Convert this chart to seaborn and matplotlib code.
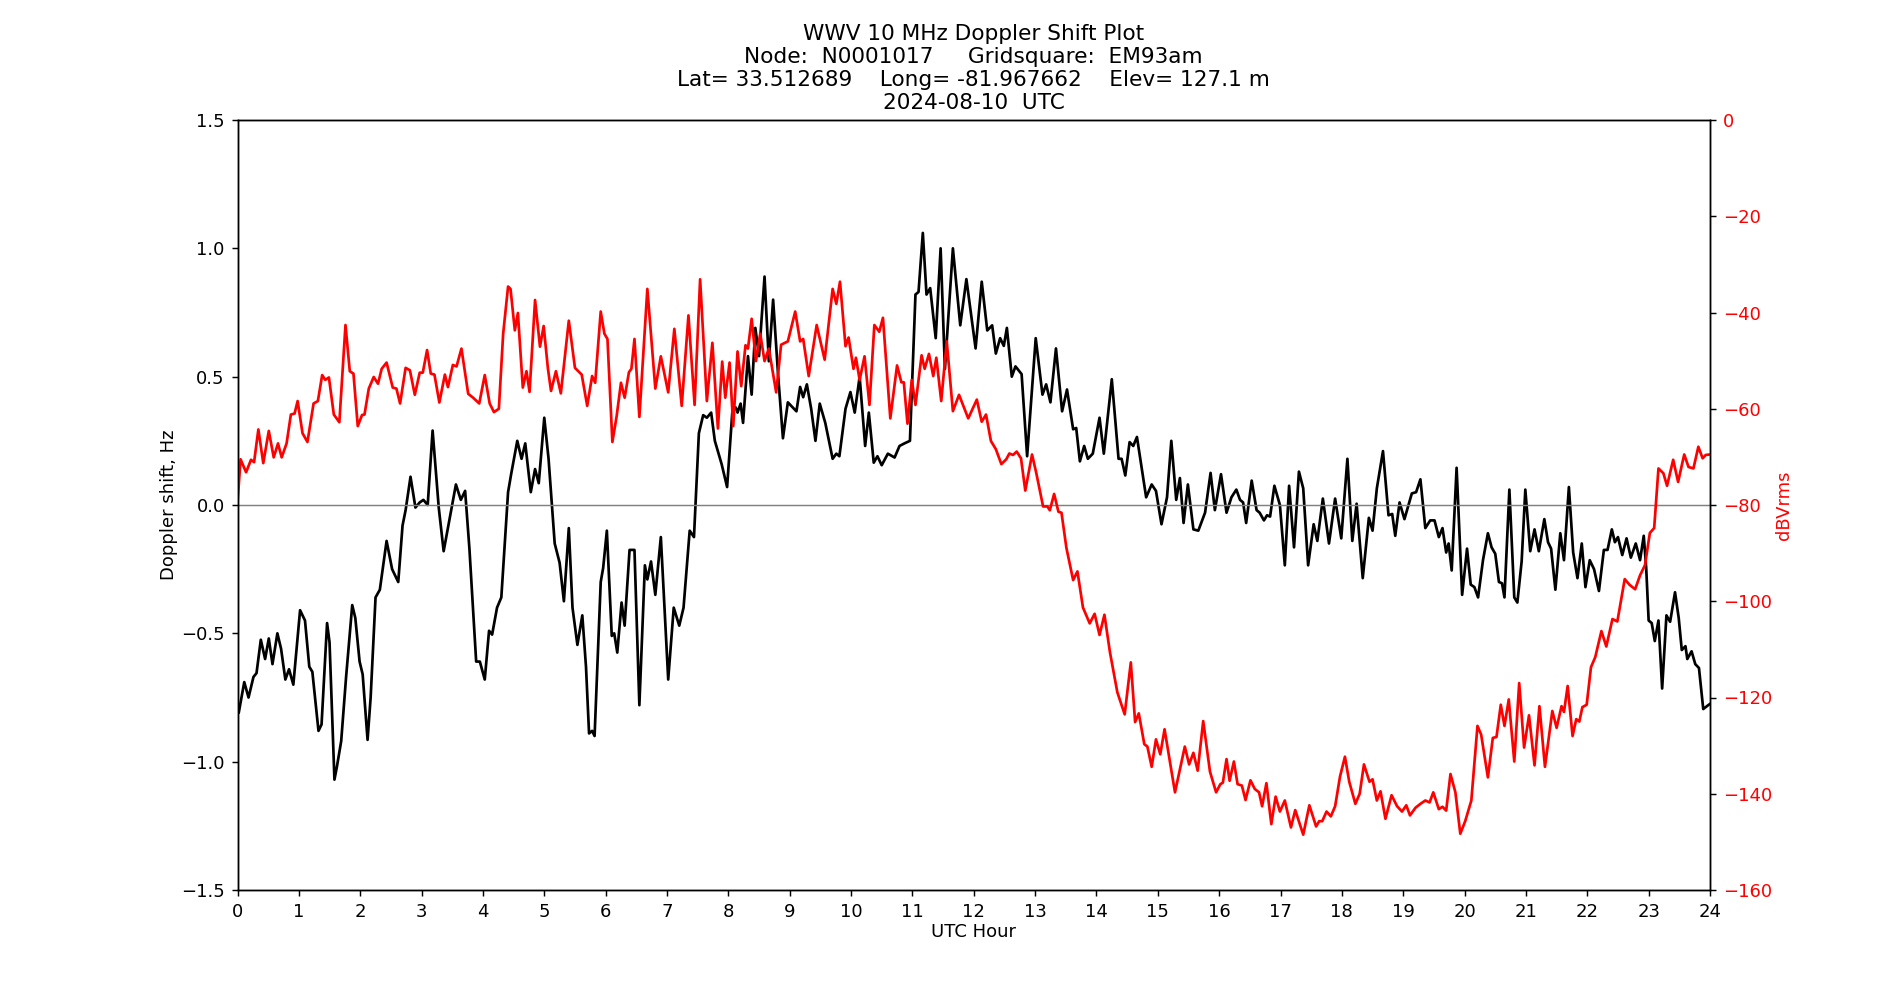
import matplotlib
matplotlib.use("Agg")
import matplotlib.pyplot as plt
import seaborn as sns
import numpy as np

# ---- Doppler shift (Hz) ----
doppler_hours = [
    0.00, 0.02, 0.11, 0.18, 0.26, 0.31, 0.38, 0.45, 0.51, 0.57, 0.65, 0.71, 0.78, 0.84, 0.91,
    1.02, 1.10, 1.17, 1.22, 1.32, 1.37, 1.46, 1.50, 1.58, 1.62, 1.69, 1.77, 1.87, 1.92, 1.99,
    2.04, 2.12, 2.17, 2.25, 2.32, 2.43, 2.52, 2.62, 2.69, 2.74, 2.82, 2.90, 2.97, 3.03, 3.10,
    3.18, 3.28, 3.36, 3.46, 3.56, 3.64, 3.71, 3.78, 3.89, 3.95, 4.03, 4.10, 4.15, 4.23, 4.30,
    4.41, 4.46, 4.56, 4.63, 4.69, 4.78, 4.85, 4.91, 5.00, 5.07, 5.17, 5.25, 5.32, 5.40, 5.46,
    5.54, 5.62, 5.68, 5.73, 5.78, 5.82, 5.92, 5.96, 6.02, 6.10, 6.14, 6.19, 6.26, 6.31, 6.39,
    6.47, 6.55, 6.64, 6.68, 6.74, 6.81, 6.90, 7.02, 7.11, 7.20, 7.27, 7.37, 7.44, 7.52, 7.59,
    7.65, 7.72, 7.78, 7.89, 7.98, 8.07, 8.12, 8.15, 8.20, 8.24, 8.32, 8.38, 8.44, 8.50, 8.59,
    8.66, 8.73, 8.81, 8.89, 8.97, 9.05, 9.11, 9.17, 9.22, 9.28, 9.35, 9.42, 9.49, 9.58, 9.70,
    9.76, 9.81, 9.91, 9.99, 10.06, 10.14, 10.23, 10.29, 10.37, 10.43, 10.50, 10.60, 10.71, 10.79, 10.87,
    10.96, 11.05, 11.10, 11.17, 11.23, 11.29, 11.38, 11.46, 11.53, 11.66, 11.78, 11.88, 12.03, 12.13, 12.22,
    12.30, 12.36, 12.43, 12.49, 12.54, 12.62, 12.68, 12.78, 12.87, 13.01, 13.12, 13.18, 13.25, 13.34, 13.44,
    13.52, 13.62, 13.67, 13.73, 13.80, 13.86, 13.94, 14.05, 14.12, 14.25, 14.36, 14.41, 14.47, 14.54, 14.60,
    14.66, 14.73, 14.81, 14.90, 14.97, 15.06, 15.15, 15.22, 15.30, 15.36, 15.42, 15.49, 15.58, 15.66, 15.77,
    15.86, 15.93, 16.03, 16.12, 16.20, 16.28, 16.34, 16.39, 16.44, 16.53, 16.61, 16.66, 16.73, 16.78, 16.83,
    16.90, 16.99, 17.07, 17.14, 17.22, 17.30, 17.37, 17.45, 17.54, 17.60, 17.69, 17.79, 17.89, 17.99, 18.09,
    18.17, 18.24, 18.34, 18.44, 18.50, 18.57, 18.67, 18.76, 18.82, 18.87, 18.94, 19.02, 19.14, 19.21, 19.28,
    19.36, 19.44, 19.51, 19.58, 19.64, 19.70, 19.74, 19.79, 19.87, 19.96, 20.04, 20.10, 20.16, 20.22, 20.30,
    20.38, 20.44, 20.50, 20.56, 20.61, 20.65, 20.73, 20.81, 20.86, 20.93, 20.99, 21.07, 21.14, 21.21, 21.30,
    21.36, 21.41, 21.48, 21.56, 21.62, 21.70, 21.77, 21.84, 21.91, 21.97, 22.04, 22.11, 22.19, 22.27, 22.33,
    22.40, 22.45, 22.50, 22.57, 22.64, 22.71, 22.79, 22.86, 22.92, 22.96, 23.00, 23.05, 23.10, 23.16, 23.22,
    23.29, 23.35, 23.43, 23.49, 23.54, 23.60, 23.63, 23.70, 23.76, 23.82, 23.89, 23.97, 24.00,
]
doppler_hz = [
    -0.80, -0.81, -0.69, -0.75, -0.67, -0.655, -0.525, -0.60, -0.52, -0.62, -0.50, -0.56, -0.68, -0.64, -0.70,
    -0.41, -0.45, -0.63, -0.65, -0.88, -0.855, -0.46, -0.535, -1.07, -1.02, -0.92, -0.67, -0.39, -0.44, -0.61,
    -0.66, -0.915, -0.75, -0.36, -0.33, -0.14, -0.25, -0.30, -0.08, -0.02, 0.11, -0.01, 0.01, 0.02, 0.00,
    0.29, -0.01, -0.18, -0.05, 0.08, 0.02, 0.055, -0.17, -0.61, -0.61, -0.68, -0.49, -0.505, -0.40, -0.36,
    0.05, 0.12, 0.25, 0.18, 0.24, 0.05, 0.14, 0.085, 0.34, 0.18, -0.15, -0.225, -0.375, -0.09, -0.40,
    -0.545, -0.43, -0.63, -0.89, -0.88, -0.90, -0.30, -0.245, -0.10, -0.51, -0.50, -0.575, -0.38, -0.47, -0.175,
    -0.175, -0.78, -0.235, -0.29, -0.22, -0.35, -0.125, -0.68, -0.40, -0.47, -0.40, -0.10, -0.125, 0.28, 0.35,
    0.34, 0.36, 0.25, 0.16, 0.07, 0.38, 0.38, 0.36, 0.395, 0.32, 0.58, 0.43, 0.69, 0.58, 0.89,
    0.56, 0.80, 0.51, 0.26, 0.40, 0.38, 0.365, 0.46, 0.42, 0.47, 0.375, 0.25, 0.395, 0.32, 0.18,
    0.20, 0.19, 0.375, 0.44, 0.36, 0.50, 0.23, 0.36, 0.165, 0.19, 0.155, 0.20, 0.185, 0.23, 0.24,
    0.25, 0.82, 0.83, 1.06, 0.82, 0.845, 0.65, 1.00, 0.53, 1.00, 0.70, 0.88, 0.61, 0.87, 0.68,
    0.70, 0.59, 0.65, 0.62, 0.69, 0.50, 0.54, 0.51, 0.19, 0.65, 0.43, 0.47, 0.40, 0.61, 0.365,
    0.45, 0.295, 0.30, 0.17, 0.23, 0.18, 0.20, 0.34, 0.20, 0.49, 0.18, 0.18, 0.115, 0.245, 0.23,
    0.265, 0.155, 0.03, 0.08, 0.055, -0.075, 0.03, 0.25, 0.02, 0.105, -0.07, 0.08, -0.095, -0.10, -0.03,
    0.125, -0.02, 0.12, -0.03, 0.03, 0.06, 0.02, 0.01, -0.07, 0.095, -0.02, -0.03, -0.06, -0.04, -0.045,
    0.075, 0.00, -0.235, 0.075, -0.165, 0.13, 0.065, -0.235, -0.075, -0.14, 0.025, -0.15, 0.025, -0.13, 0.18,
    -0.14, 0.005, -0.285, -0.05, -0.10, 0.065, 0.21, -0.04, -0.035, -0.12, 0.01, -0.055, 0.045, 0.05, 0.10,
    -0.09, -0.06, -0.06, -0.125, -0.09, -0.185, -0.15, -0.255, 0.145, -0.35, -0.17, -0.31, -0.32, -0.36, -0.215,
    -0.11, -0.165, -0.19, -0.30, -0.305, -0.36, 0.06, -0.36, -0.38, -0.22, 0.06, -0.18, -0.095, -0.18, -0.055,
    -0.145, -0.17, -0.33, -0.11, -0.215, 0.07, -0.185, -0.285, -0.15, -0.32, -0.215, -0.25, -0.335, -0.175, -0.175,
    -0.095, -0.145, -0.125, -0.195, -0.13, -0.205, -0.15, -0.215, -0.12, -0.245, -0.45, -0.46, -0.53, -0.45, -0.715,
    -0.43, -0.455, -0.34, -0.44, -0.565, -0.55, -0.60, -0.57, -0.62, -0.635, -0.795, -0.78, -0.775,
]

# ---- Received power (dBVrms) ----
power_hours = [
    0.00, 0.05, 0.14, 0.22, 0.27, 0.34, 0.42, 0.51, 0.59, 0.66, 0.72, 0.80, 0.87, 0.93, 0.98,
    1.06, 1.14, 1.24, 1.31, 1.38, 1.43, 1.49, 1.57, 1.66, 1.76, 1.83, 1.89, 1.96, 2.03, 2.07,
    2.14, 2.22, 2.29, 2.35, 2.43, 2.53, 2.59, 2.65, 2.74, 2.81, 2.89, 2.97, 3.02, 3.09, 3.15,
    3.21, 3.29, 3.38, 3.43, 3.51, 3.57, 3.65, 3.76, 3.84, 3.94, 4.03, 4.11, 4.18, 4.26, 4.33,
    4.41, 4.45, 4.52, 4.57, 4.65, 4.71, 4.76, 4.85, 4.93, 4.99, 5.06, 5.11, 5.19, 5.27, 5.40,
    5.50, 5.61, 5.70, 5.78, 5.83, 5.92, 5.98, 6.03, 6.11, 6.18, 6.25, 6.31, 6.38, 6.42, 6.47,
    6.55, 6.68, 6.81, 6.90, 7.02, 7.12, 7.24, 7.35, 7.45, 7.54, 7.65, 7.74, 7.83, 7.90, 7.95,
    8.02, 8.08, 8.15, 8.21, 8.28, 8.32, 8.38, 8.45, 8.52, 8.59, 8.66, 8.78, 8.86, 8.97, 9.09,
    9.17, 9.22, 9.31, 9.44, 9.57, 9.70, 9.76, 9.82, 9.91, 9.96, 10.04, 10.08, 10.14, 10.22, 10.30,
    10.38, 10.46, 10.52, 10.64, 10.75, 10.82, 10.86, 10.92, 10.99, 11.05, 11.15, 11.20, 11.27, 11.34, 11.39,
    11.47, 11.56, 11.66, 11.76, 11.91, 12.05, 12.13, 12.20, 12.28, 12.36, 12.45, 12.53, 12.58, 12.64, 12.70,
    12.77, 12.84, 12.95, 13.02, 13.13, 13.20, 13.24, 13.31, 13.38, 13.43, 13.51, 13.62, 13.69, 13.78, 13.89,
    13.97, 14.05, 14.13, 14.22, 14.34, 14.46, 14.56, 14.63, 14.69, 14.78, 14.83, 14.90, 14.97, 15.04, 15.11,
    15.28, 15.44, 15.51, 15.58, 15.65, 15.74, 15.85, 15.95, 16.02, 16.06, 16.12, 16.17, 16.24, 16.30, 16.37,
    16.43, 16.51, 16.58, 16.65, 16.70, 16.77, 16.85, 16.92, 16.99, 17.07, 17.17, 17.24, 17.37, 17.47, 17.58,
    17.63, 17.68, 17.75, 17.82, 17.89, 17.97, 18.05, 18.12, 18.22, 18.29, 18.36, 18.45, 18.50, 18.57, 18.63,
    18.71, 18.81, 18.90, 18.98, 19.05, 19.11, 19.20, 19.28, 19.36, 19.43, 19.49, 19.58, 19.64, 19.70, 19.77,
    19.85, 19.93, 20.01, 20.11, 20.21, 20.27, 20.38, 20.46, 20.52, 20.59, 20.65, 20.72, 20.81, 20.89, 20.97,
    21.05, 21.14, 21.22, 21.31, 21.43, 21.50, 21.58, 21.62, 21.68, 21.76, 21.82, 21.87, 21.92, 21.99, 22.06,
    22.13, 22.23, 22.31, 22.41, 22.49, 22.61, 22.69, 22.78, 22.86, 22.94, 23.02, 23.09, 23.16, 23.24, 23.30,
    23.40, 23.48, 23.58, 23.65, 23.73, 23.81, 23.88, 23.93, 24.00,
]
power_db = [
    -79.6, -70.5, -73.2, -70.6, -71.1, -64.3, -71.3, -64.6, -70.1, -67.2, -70.1, -67.2, -61.2, -61.0, -58.4,
    -65.1, -66.9, -58.9, -58.4, -53.0, -54.0, -53.5, -61.2, -62.8, -42.6, -52.2, -52.7, -63.6, -61.3, -61.2,
    -55.8, -53.4, -54.8, -51.7, -50.4, -55.6, -55.8, -58.9, -51.5, -52.0, -57.1, -52.5, -52.5, -47.8, -52.7,
    -52.9, -58.7, -52.9, -55.5, -50.9, -51.2, -47.5, -56.9, -57.7, -58.9, -53.0, -58.9, -60.7, -60.0, -44.4,
    -34.6, -35.1, -43.7, -40.1, -55.6, -52.2, -56.5, -37.4, -47.1, -42.8, -51.7, -56.3, -52.2, -56.8, -41.7,
    -51.5, -52.9, -59.4, -53.2, -54.6, -39.8, -44.4, -45.5, -66.9, -61.5, -54.6, -57.7, -52.4, -51.7, -45.5,
    -61.7, -35.1, -55.8, -49.1, -56.6, -43.4, -59.4, -40.6, -59.2, -33.1, -58.4, -46.3, -64.1, -50.2, -57.7,
    -50.4, -63.6, -48.1, -55.3, -46.8, -47.5, -41.3, -50.1, -44.4, -50.1, -47.5, -56.6, -46.7, -46.0, -39.8,
    -46.0, -45.5, -53.2, -42.6, -49.8, -35.1, -38.2, -33.6, -47.0, -45.2, -51.7, -49.4, -54.0, -49.1, -59.2,
    -42.6, -44.0, -41.1, -62.0, -51.0, -54.5, -54.5, -63.1, -54.0, -59.2, -48.9, -51.7, -48.6, -53.2, -49.4,
    -58.4, -46.0, -60.5, -57.1, -62.0, -58.1, -62.7, -61.2, -66.7, -68.4, -71.5, -70.5, -69.3, -69.6, -68.9,
    -70.3, -77.0, -69.5, -73.4, -80.3, -80.3, -81.1, -77.7, -81.4, -81.6, -88.9, -95.6, -93.8, -101.3, -104.6,
    -102.6, -107.0, -102.8, -110.6, -118.9, -123.5, -112.7, -125.1, -123.3, -129.7, -130.2, -134.4, -128.7, -131.8, -126.6,
    -139.7, -130.2, -133.9, -131.5, -135.2, -124.9, -135.4, -139.7, -138.0, -137.7, -132.8, -137.3, -133.3, -138.0, -138.3,
    -141.3, -137.2, -139.0, -139.7, -142.6, -137.8, -146.3, -140.6, -143.7, -141.4, -147.0, -143.4, -148.5, -142.4, -146.8,
    -145.7, -145.7, -143.7, -144.7, -142.6, -136.4, -132.3, -137.5, -142.1, -140.0, -133.9, -137.5, -137.0, -141.4, -139.5,
    -145.2, -140.3, -142.6, -143.7, -142.4, -144.5, -142.9, -142.1, -141.4, -141.8, -139.7, -143.2, -142.7, -143.5, -135.9,
    -139.7, -148.3, -145.7, -141.4, -125.9, -127.7, -136.6, -128.4, -128.2, -121.5, -125.9, -120.4, -133.3, -117.0, -130.4,
    -123.7, -134.1, -121.8, -134.4, -122.8, -126.3, -121.8, -123.0, -117.6, -128.0, -124.5, -125.0, -122.0, -121.5, -113.7,
    -111.6, -106.2, -109.4, -103.7, -104.2, -95.4, -96.6, -97.5, -94.6, -92.5, -85.8, -84.8, -72.4, -73.4, -76.0,
    -70.6, -75.2, -69.5, -72.1, -72.4, -67.9, -70.3, -69.6, -69.5,
]

x_ticks = list(range(0, 25))
left_ticks = [-1.5, -1.0, -0.5, 0.0, 0.5, 1.0, 1.5]
right_ticks = [0, -20, -40, -60, -80, -100, -120, -140, -160]

title_text = ("WWV 10 MHz Doppler Shift Plot\n"
              "Node:  N0001017     Gridsquare:  EM93am\n"
              "Lat= 33.512689    Long= -81.967662    Elev= 127.1 m\n"
              "2024-08-10  UTC")

DPI = 130
fig, ax = plt.subplots(figsize=(1900 / DPI, 1000 / DPI), dpi=DPI)

sns.lineplot(x=np.array(doppler_hours), y=np.array(doppler_hz), ax=ax,
             color="black", linewidth=1.5, estimator=None, sort=False, legend=False,
             solid_joinstyle="round")
ax.axhline(0, color="grey", linewidth=0.8)
ax.set_xlim(0, 24)
ax.set_ylim(-1.5, 1.5)
ax.set_xticks(x_ticks)
ax.set_yticks(left_ticks)
ax.set_xlabel("UTC Hour", labelpad=1.5)
ax.set_ylabel("Doppler shift, Hz", labelpad=2)
ax.set_title(title_text, fontsize=12)

ax2 = ax.twinx()
sns.lineplot(x=np.array(power_hours), y=np.array(power_db), ax=ax2,
             color="red", linewidth=1.5, estimator=None, sort=False, legend=False,
             solid_joinstyle="round")
ax2.set_ylim(-160, 0)
ax2.set_yticks(right_ticks)
ax2.set_ylabel("dBVrms", color="red", labelpad=2)
ax2.tick_params(axis="y", labelcolor="red")
ax2.set_xlim(0, 24)

fig.savefig("out.png", dpi=DPI)
